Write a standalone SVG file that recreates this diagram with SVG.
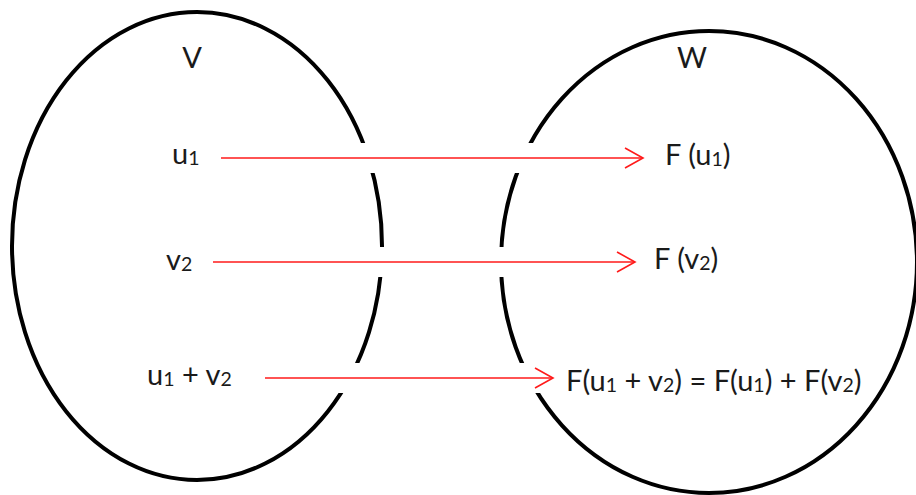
<svg xmlns="http://www.w3.org/2000/svg" width="916" height="495" viewBox="0 0 916 495">
  <style>
    .set { fill: none; stroke: #000; stroke-width: 4; }
    .lbl { font-family: Lato, "Open Sans", "Liberation Sans", sans-serif; font-size: 29px; fill: #1a1a1a; }
    .sub { font-size: 19.5px; }
    .halo { stroke: #fff; stroke-width: 30; }
    .arrow { stroke: #ff1a1a; stroke-width: 1.6; fill: none; }
  </style>
  <defs>
    <marker id="chev" markerUnits="userSpaceOnUse" markerWidth="22" markerHeight="24" refX="19" refY="11" orient="auto" viewBox="0 0 22 24">
      <path d="M1,1 L19,11 L1,21" fill="none" stroke="#ff1a1a" stroke-width="1.6"/>
    </marker>
  </defs>
  <rect width="916" height="495" fill="#fff"/>
  <g id="node-V">
    <ellipse class="set" cx="197" cy="246" rx="185" ry="234"/>
    <text class="lbl" x="192" y="68" text-anchor="middle">V</text>
  </g>
  <g id="node-W">
    <ellipse class="set" cx="709" cy="262" rx="208" ry="231"/>
    <text class="lbl" x="692" y="68" text-anchor="middle">W</text>
  </g>
  <g id="connectors">
    <line class="halo" x1="221" y1="158" x2="643" y2="158"/>
    <line class="halo" x1="213" y1="262" x2="635" y2="262"/>
    <line class="halo" x1="265" y1="378" x2="553" y2="378"/>
    <line class="arrow" x1="221" y1="158" x2="643" y2="158" marker-end="url(#chev)"/>
    <line class="arrow" x1="213" y1="262" x2="635" y2="262" marker-end="url(#chev)"/>
    <line class="arrow" x1="265" y1="378" x2="553" y2="378" marker-end="url(#chev)"/>
  </g>
  <g id="node-u1">
    <text class="lbl" x="172" y="164">u<tspan class="sub" dy="1">1</tspan></text>
  </g>
  <g id="node-v2">
    <text class="lbl" x="166" y="270">v<tspan class="sub" dy="1">2</tspan></text>
  </g>
  <g id="node-u1v2">
    <text class="lbl" x="147" y="385">u<tspan class="sub" dy="1">1</tspan><tspan dy="-1"> + v</tspan><tspan class="sub" dy="1">2</tspan></text>
  </g>
  <g id="node-Fu1">
    <text class="lbl" x="665" y="165">F (u<tspan class="sub" dy="1">1</tspan><tspan dy="-1">)</tspan></text>
  </g>
  <g id="node-Fv2">
    <text class="lbl" x="654" y="269">F (v<tspan class="sub" dy="1">2</tspan><tspan dy="-1">)</tspan></text>
  </g>
  <g id="node-Fsum">
    <text class="lbl" x="566" y="391">F(u<tspan class="sub" dy="1">1</tspan><tspan dy="-1"> + v</tspan><tspan class="sub" dy="1">2</tspan><tspan dy="-1">) = F(u</tspan><tspan class="sub" dy="1">1</tspan><tspan dy="-1">) + F(v</tspan><tspan class="sub" dy="1">2</tspan><tspan dy="-1">)</tspan></text>
  </g>
</svg>
